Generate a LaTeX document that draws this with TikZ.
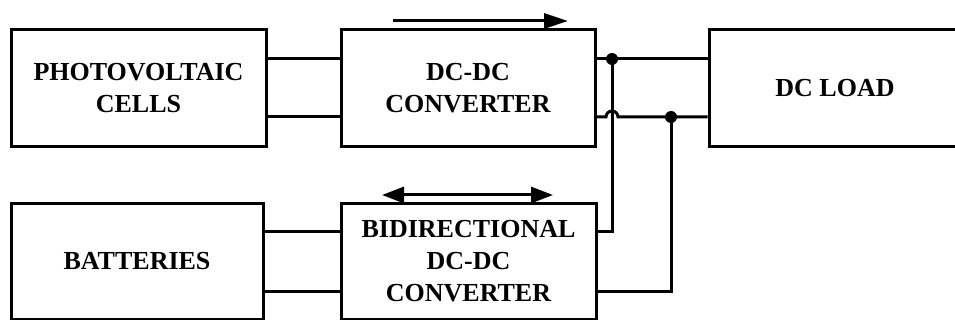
\documentclass[tikz,border=0pt]{standalone}
\usepackage{fontspec}
\setmainfont{Liberation Serif}
\usetikzlibrary{arrows.meta}
\begin{document}
\begin{tikzpicture}[x=1pt,y=1pt,
  line width=3pt,
  blockbox/.style={draw, rectangle, inner sep=0pt, align=center,
    font=\bfseries\fontsize{26}{32}\selectfont},
  dot/.style={circle, fill, inner sep=0pt, minimum size=12pt},
  flowarrow/.style={-{Triangle[length=24pt,width=15pt]}},
  biarrow/.style={{Triangle[length=22pt,width=16pt]}-{Triangle[length=22pt,width=16pt]}}]
  \useasboundingbox (0,0) rectangle (955,-320);

  % top row: source, converter, load
  \node[blockbox, minimum width=255pt, minimum height=117pt] (pv)   at (138.5,-88) {PHOTOVOLTAIC\\CELLS};
  \node[blockbox, minimum width=254pt, minimum height=117pt] (dcdc) at (468,-88)   {DC-DC\\CONVERTER};
  \node[blockbox, minimum width=252pt, minimum height=117pt] (load) at (835,-88)   {DC LOAD};

  % bottom row: storage and its converter
  \node[blockbox, minimum width=252pt, minimum height=115pt] (bat)  at (137,-261.5)   {BATTERIES};
  \node[blockbox, minimum width=255pt, minimum height=115pt] (bid)  at (468.5,-261.5) {BIDIRECTIONAL\\DC-DC\\CONVERTER};

  % power flow direction marks
  \coordinate (fa1) at (393,-21);
  \coordinate (fa2) at (568,-21);
  \draw[flowarrow] (fa1) -- (fa2);
  \coordinate (ba1) at (382,-195);
  \coordinate (ba2) at (553,-195);
  \draw[biarrow] (ba1) -- (ba2);

  % links between blocks
  \draw ([yshift=29pt]pv.east) -- ([yshift=29pt]dcdc.west);
  \draw ([yshift=-29pt]pv.east) -- ([yshift=-29pt]dcdc.west);
  \draw ([yshift=29.5pt]bat.east) -- ([yshift=29.5pt]bid.west);
  \draw ([yshift=-29.5pt]bat.east) -- ([yshift=-29.5pt]bid.west);

  % DC bus junctions
  \node[dot] (j1) at (612,-59) {};
  \node[dot] (j2) at (671,-117) {};
  \coordinate (hop) at (606,-117);

  \draw ([yshift=29pt]dcdc.east) -- (j1.center) -- ([yshift=29pt]load.west);
  \draw ([yshift=-29pt]dcdc.east) -- (hop) arc[start angle=180, end angle=0, radius=6pt]
        -- (j2.center) -- ([yshift=-29pt]load.west);
  \draw (j1.center) |- ([yshift=29.5pt]bid.east);
  \draw (j2.center) |- ([yshift=-29.5pt]bid.east);
\end{tikzpicture}
\end{document}
